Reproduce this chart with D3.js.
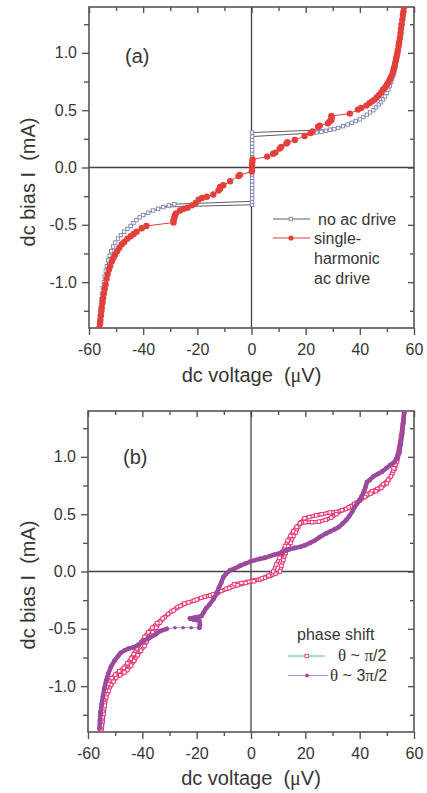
<!DOCTYPE html>
<html>
<head>
<meta charset="utf-8">
<title>dc I-V curves</title>
<script src="https://d3js.org/d3.v7.min.js"></script>
<style>
body { margin: 0; background: #fff; }
text { font-family: "Liberation Sans", Arial, sans-serif; fill: #363636; }
</style>
</head>
<body>
<script>

// ---- axis ticks ----
var xMajor = [-60, -40, -20, 0, 20, 40, 60];
var xMinor = [-50, -30, -10, 10, 30, 50];
var yMajor = [-1.0, -0.5, 0.0, 0.5, 1.0];
var yMinor = [-1.25, -0.75, -0.25, 0.25, 0.75, 1.25];

// ---- panel (a): no ac drive (V in uV, I in mA) ----
var noAcPos = [[22.0,0.300],[24.0,0.305],[25.8,0.31],[27.5,0.32],[29.0,0.33],[30.5,0.335],[32.0,0.345],[33.8,0.36],
  [35.5,0.375],[37.0,0.39],[38.5,0.405],[40.0,0.42],[41.3,0.44],[42.6,0.46],[43.8,0.48],[45.0,0.50],[46.0,0.525],
  [47.0,0.55],[47.8,0.57],[48.6,0.595],[49.3,0.62],[49.9,0.65],[50.5,0.68],[51.0,0.71],[51.5,0.745],[51.9,0.775],
  [52.3,0.80],[52.7,0.83],[53.0,0.86],[53.3,0.89],[53.6,0.93],[53.9,0.97],[54.2,1.01],[54.5,1.05],[54.8,1.09],
  [55.1,1.13],[55.3,1.17],[55.5,1.21],[55.7,1.25],[55.9,1.29],[56.0,1.32],[56.2,1.36],[56.4,1.40]];
var noAcNeg = [[-28.5,-0.32],[-30.5,-0.33],[-32.6,-0.345],[-34.5,-0.36],[-36.3,-0.375],[-38.2,-0.395],[-40.0,-0.415],
  [-41.3,-0.435],[-42.5,-0.46],[-43.6,-0.485],[-44.6,-0.51],[-45.8,-0.535],[-47.0,-0.56],[-48.2,-0.59],[-49.3,-0.62],
  [-50.3,-0.655],[-51.1,-0.69],[-51.8,-0.73],[-52.4,-0.77],[-52.9,-0.81],[-53.4,-0.86],[-53.8,-0.90],[-54.2,-0.95],
  [-54.5,-1.00],[-54.9,-1.05],[-55.2,-1.10],[-55.4,-1.15],[-55.6,-1.20],[-55.8,-1.25],[-56.0,-1.30],[-56.2,-1.35],[-56.4,-1.40]];
var noAcZero = [[0.2,-0.325],[0.2,-0.30],[0.2,-0.27],[0.2,-0.24],[0.2,-0.21],[0.2,-0.18],[0.2,-0.15],[0.2,-0.12],
  [0.2,-0.09],[0.2,-0.06],[0.2,-0.03],[0.2,0.0],[0.2,0.03],[0.2,0.06],[0.2,0.09],[0.2,0.12],[0.2,0.15],[0.2,0.18],
  [0.2,0.21],[0.2,0.24],[0.2,0.27],[0.2,0.305]];
var noAcJumps = [[[0.2,0.305],[29.0,0.33]], [[0.2,0.27],[22.0,0.30]],
  [[0.2,-0.295],[-28.5,-0.32]], [[0.2,-0.325],[-32.6,-0.345]]];

// ---- panel (a): single-harmonic ac drive ----
var acDrive = [[-56.1,-1.40],[-55.9,-1.36],[-55.8,-1.33],[-55.6,-1.29],[-55.4,-1.25],[-55.3,-1.22],[-55.0,-1.18],
  [-54.8,-1.14],[-54.5,-1.10],[-54.2,-1.06],[-53.9,-1.02],[-53.5,-0.97],[-53.1,-0.93],[-52.6,-0.89],[-52.2,-0.86],
  [-51.6,-0.82],[-51.0,-0.79],[-50.4,-0.76],[-49.6,-0.73],[-48.8,-0.70],[-47.9,-0.67],[-47.0,-0.65],[-45.8,-0.62],
  [-44.6,-0.60],[-43.5,-0.58],[-42.4,-0.56],[-40.5,-0.53],[-38.8,-0.51],
  [-28.8,-0.48],[-28.8,-0.46],[-28.5,-0.44],[-28.3,-0.42],[-27.9,-0.40],[-26.4,-0.375],[-25.0,-0.36],[-23.6,-0.35],
  [-22.0,-0.33],[-20.6,-0.31],[-19.5,-0.28],[-18.3,-0.265],[-16.5,-0.255],[-14.1,-0.235],[-12.2,-0.20],[-11.6,-0.185],
  [-11.6,-0.17],[-10.4,-0.155],[-7.9,-0.12],[-4.8,-0.075],[-4.3,-0.065],[0.1,-0.035],[0.2,-0.01],[0.2,0.02],
  [0.3,0.05],[0.4,0.07],
  [5.8,0.095],[8.0,0.12],[8.8,0.13],[10.4,0.165],[11.0,0.18],[12.9,0.21],[13.3,0.22],[16.0,0.24],[19.6,0.275],
  [21.8,0.30],[22.5,0.315],[24.6,0.355],[25.2,0.365],[28.2,0.385],[28.8,0.40],[29.5,0.415],[29.6,0.435],[29.5,0.45],
  [36.3,0.47],[39.3,0.505],[40.5,0.52],[42.4,0.54],[43.5,0.56],[44.4,0.575],[45.3,0.59],[46.2,0.61],[47.0,0.63],
  [47.9,0.655],[48.6,0.68],[49.4,0.70],[50.0,0.725],[50.6,0.745],[51.1,0.77],[51.6,0.795],[52.1,0.82],[52.4,0.85],
  [52.7,0.875],[53.0,0.905],[53.3,0.935],[53.5,0.96],[53.8,0.99],[54.0,1.02],[54.3,1.06],[54.5,1.09],[54.8,1.13],
  [55.0,1.17],[55.2,1.21],[55.4,1.25],[55.7,1.29],[55.9,1.33],[56.1,1.36],[56.3,1.40]];

// ---- panel (b): theta ~ pi/2 (down sweep then up sweep) ----
var phaseHalf = [[56.4,1.39],[56.0,1.30],[55.6,1.20],[55.2,1.12],[54.6,1.04],[53.8,0.96],[53.0,0.90],[52.0,0.85],
  [50.5,0.80],[48.6,0.76],[46.5,0.72],[44.5,0.70],[42.5,0.67],[40.5,0.63],[38.8,0.60],[37.0,0.57],[35.0,0.545],
  [33.0,0.53],[31.4,0.52],[29.0,0.515],[26.0,0.50],[24.0,0.49],[21.5,0.475],[19.7,0.465],[18.5,0.43],[17.4,0.39],
  [16.5,0.34],[15.6,0.31],[14.6,0.25],[13.7,0.22],[12.8,0.16],[11.9,0.10],[11.2,0.05],[10.7,0.0],
  [9.0,-0.02],[7.0,-0.04],[5.0,-0.055],[3.3,-0.07],[1.3,-0.075],[-1.0,-0.09],[-3.5,-0.10],[-6.1,-0.11],[-9.0,-0.15],
  [-12.2,-0.185],[-15.0,-0.21],[-18.3,-0.23],[-21.0,-0.255],[-24.5,-0.28],[-27.0,-0.31],[-29.4,-0.35],[-31.8,-0.40],
  [-33.5,-0.445],[-34.9,-0.49],[-36.2,-0.53],[-37.4,-0.57],[-38.4,-0.61],[-39.2,-0.65],[-40.5,-0.69],[-41.7,-0.73],
  [-43.0,-0.78],[-44.1,-0.82],[-45.5,-0.86],[-46.6,-0.88],[-48.2,-0.905],[-49.6,-0.925],[-50.6,-0.96],[-51.5,-0.99],
  [-52.4,-1.04],[-53.3,-1.10],[-53.8,-1.17],[-54.2,-1.24],[-54.6,-1.31],[-54.9,-1.38],
  [-55.4,-1.38],[-55.1,-1.30],[-54.7,-1.22],[-54.1,-1.12],[-53.4,-1.04],[-52.5,-0.98],[-51.3,-0.93],[-50.0,-0.90],
  [-48.5,-0.87],[-46.8,-0.84],[-45.5,-0.80],[-44.2,-0.76],[-43.2,-0.72],[-42.0,-0.67],[-40.5,-0.62],[-39.2,-0.57],
  [-37.8,-0.53],[-36.3,-0.49],[-34.5,-0.45],[-32.5,-0.41],[-30.5,-0.37],[-28.5,-0.34],[-26.0,-0.30],[-23.0,-0.27],
  [-20.0,-0.245],[-17.0,-0.22],[-14.0,-0.20],[-11.0,-0.17],[-8.0,-0.145],[-5.0,-0.12],[-2.0,-0.10],[1.0,-0.085],
  [4.0,-0.06],[6.5,-0.035],[8.2,0.0],[9.3,0.06],[10.5,0.12],[11.5,0.17],[12.5,0.22],[13.5,0.27],[14.5,0.31],
  [15.5,0.35],[16.8,0.39],[18.0,0.42],[20.0,0.43],[22.5,0.43],[25.0,0.435],[27.5,0.45],[29.5,0.47],[31.4,0.50],
  [33.5,0.535],[36.0,0.56],[38.0,0.59],[40.0,0.62],[42.0,0.65],[44.0,0.68],[46.0,0.70],[48.0,0.73],[50.0,0.77],
  [51.5,0.83],[52.5,0.90],[53.5,0.98],[54.5,1.08],[55.2,1.18],[55.8,1.28],[56.3,1.38]];

// ---- panel (b): theta ~ 3pi/2 ----
var phaseThreeUpper = [[56.4,1.39],[56.1,1.30],[55.6,1.20],[55.1,1.12],[54.5,1.04],[53.7,0.99],[52.6,0.95],
  [51.3,0.93],[49.8,0.90],[48.2,0.87],[46.6,0.85],[45.1,0.83],[43.8,0.80],[42.7,0.78],[42.2,0.74],[41.6,0.70],
  [40.8,0.66],[39.9,0.62],[39.0,0.59],[38.1,0.56],[37.2,0.52],[36.1,0.48],[35.1,0.45],[33.8,0.42],[32.4,0.39],
  [31.0,0.37],[29.2,0.35],[27.5,0.33],[25.3,0.30],[23.5,0.27],[21.8,0.25],[20.0,0.23],[18.1,0.215],[16.0,0.205],
  [14.3,0.195],[12.5,0.18],[10.7,0.16],[9.0,0.15],[7.1,0.135],[5.2,0.12],[3.3,0.11],[1.5,0.10],[-0.3,0.085],
  [-2.0,0.07],[-4.0,0.05],[-6.1,0.025],[-7.7,0.01],[-9.2,-0.02],[-10.2,-0.05],[-11.0,-0.10],[-11.8,-0.14],
  [-12.8,-0.20],[-13.8,-0.24],[-15.3,-0.29],[-16.5,-0.32],[-17.5,-0.36],[-18.3,-0.39],[-20.5,-0.40],[-22.5,-0.41],
  [-21.0,-0.42],[-19.0,-0.43],[-18.8,-0.46],[-19.0,-0.49]];
var phaseThreeJump = [[-19.0,-0.49],[-22.0,-0.49],[-25.0,-0.49],[-28.0,-0.49],[-31.0,-0.50]];
var phaseThreeLower = [[-31.0,-0.50],[-33.5,-0.52],[-35.2,-0.55],[-37.5,-0.58],[-39.8,-0.61],[-41.5,-0.64],
  [-43.0,-0.66],[-44.8,-0.67],[-46.6,-0.69],[-48.0,-0.71],[-49.0,-0.74],[-50.3,-0.78],[-51.5,-0.83],[-52.5,-0.89],
  [-53.3,-0.95],[-54.0,-1.02],[-54.5,-1.09],[-55.0,-1.16],[-55.4,-1.23],[-55.6,-1.30],[-55.8,-1.37]];

var red = "#e2403b", blueSq = "#7c82b8", pink = "#e8336e", purple = "#9b4a9d";

var svg = d3.select("body").append("svg").attr("width", 427).attr("height", 793);
var uid = 0;

function panel(p) {
  var x = d3.scaleLinear().domain([-60, 60]).range([p.left, p.right]);
  var y = d3.scaleLinear().domain([-1.4, 1.4]).range([p.bottom, p.top]);
  var g = svg.append("g");
  var axisCol = "#555";

  function styleAxis(sel, labels) {
    sel.select(".domain").remove();
    sel.selectAll(".tick line").attr("stroke", axisCol).attr("stroke-width", 1.4);
    sel.selectAll(".tick text").attr("font-size", 16).attr("fill", "#363636")
      .attr("font-family", "Liberation Sans, Arial, sans-serif");
    if (!labels) sel.selectAll(".tick text").remove();
  }

  var fmtY = function(d) { return d3.format(".1f")(d).replace("\u2212", "-"); };
  var fmtX = function(d) { return String(d); };

  g.append("g").attr("transform", "translate(0," + p.bottom + ")")
    .call(d3.axisBottom(x).tickValues(xMajor).tickSize(7).tickPadding(8.5).tickFormat(fmtX))
    .call(styleAxis, true);
  g.append("g").attr("transform", "translate(0," + p.bottom + ")")
    .call(d3.axisBottom(x).tickValues(xMinor).tickSize(4)).call(styleAxis, false);
  g.append("g").attr("transform", "translate(0," + p.top + ")")
    .call(d3.axisTop(x).tickValues(xMajor).tickSize(-6)).call(styleAxis, false);
  g.append("g").attr("transform", "translate(0," + p.top + ")")
    .call(d3.axisTop(x).tickValues(xMinor).tickSize(-4)).call(styleAxis, false);
  g.append("g").attr("transform", "translate(" + p.left + ",0)")
    .call(d3.axisLeft(y).tickValues(yMajor).tickSize(7).tickPadding(5).tickFormat(fmtY))
    .call(styleAxis, true);
  g.append("g").attr("transform", "translate(" + p.left + ",0)")
    .call(d3.axisLeft(y).tickValues(yMinor).tickSize(5)).call(styleAxis, false);
  g.append("g").attr("transform", "translate(" + p.right + ",0)")
    .call(d3.axisRight(y).tickValues(yMajor).tickSize(-6)).call(styleAxis, false);
  g.append("g").attr("transform", "translate(" + p.right + ",0)")
    .call(d3.axisRight(y).tickValues(yMinor).tickSize(-4)).call(styleAxis, false);

  // zero lines
  g.append("line").attr("x1", x(0)).attr("x2", x(0)).attr("y1", y(-1.4)).attr("y2", y(1.4))
    .attr("stroke", "#444").attr("stroke-width", 1.3);
  g.append("line").attr("x1", x(-60)).attr("x2", x(60)).attr("y1", y(0)).attr("y2", y(0))
    .attr("stroke", "#444").attr("stroke-width", 1.3);

  // frame
  g.append("rect").attr("x", p.left).attr("y", p.top)
    .attr("width", p.right - p.left).attr("height", p.bottom - p.top)
    .attr("fill", "none").attr("stroke", axisCol).attr("stroke-width", 1.6);

  var clipId = "clip" + (uid++);
  svg.append("clipPath").attr("id", clipId).append("rect")
    .attr("x", p.left).attr("y", p.top).attr("width", p.right - p.left).attr("height", p.bottom - p.top);
  var data = g.append("g").attr("clip-path", "url(#" + clipId + ")");

  // titles
  g.append("text").attr("x", p.labelX).attr("y", p.labelY).attr("font-size", 20).text(p.label);
  var xt = g.append("text").attr("x", (p.left + p.right) / 2).attr("y", p.titleY)
    .attr("text-anchor", "middle").attr("font-size", 20);
  xt.append("tspan").text("dc voltage\u00a0\u00a0(");
  xt.append("tspan").attr("font-family", "Liberation Serif, serif").text("\u03bc");
  xt.append("tspan").text("V)");
  g.append("text").attr("transform", "translate(" + p.ytitleX + "," + p.ytitleY + ") rotate(-90)")
    .attr("text-anchor", "middle").attr("font-size", 20).text("dc bias I\u00a0\u00a0(mA)");

  var line = d3.line().x(function(d) { return x(d[0]); }).y(function(d) { return y(d[1]); });
  return { x: x, y: y, g: g, data: data, line: line };
}

function squares(layer, pts, P, size, stroke, sw) {
  layer.selectAll(null).data(pts).enter().append("rect")
    .attr("x", function(d) { return P.x(d[0]) - size / 2; })
    .attr("y", function(d) { return P.y(d[1]) - size / 2; })
    .attr("width", size).attr("height", size)
    .attr("fill", "#fff").attr("stroke", stroke).attr("stroke-width", sw);
}
function dots(layer, pts, P, r, col) {
  layer.selectAll(null).data(pts).enter().append("circle")
    .attr("cx", function(d) { return P.x(d[0]); })
    .attr("cy", function(d) { return P.y(d[1]); })
    .attr("r", r).attr("fill", col);
}

// ================= panel (a) =================
var A = panel({ left: 89, right: 414, top: 7, bottom: 328, label: "(a)", labelX: 125, labelY: 63,
  titleY: 382, ytitleX: 35, ytitleY: 182 });

[noAcPos, noAcNeg, noAcZero].concat(noAcJumps).forEach(function(s) {
  A.data.append("path").attr("d", A.line(s)).attr("fill", "none").attr("stroke", "#333").attr("stroke-width", 0.8);
});
A.data.append("path").attr("d", A.line(acDrive)).attr("fill", "none").attr("stroke", red).attr("stroke-width", 1);
squares(A.data, noAcPos.concat(noAcNeg, noAcZero), A, 3.4, blueSq, 0.9);
dots(A.data, acDrive, A, 3.2, red);

// legend (a)
var la = A.g.append("g");
la.append("line").attr("x1", 273).attr("x2", 310).attr("y1", 219).attr("y2", 219).attr("stroke", "#333").attr("stroke-width", 0.8);
la.append("rect").attr("x", 289.2).attr("y", 217.3).attr("width", 3.4).attr("height", 3.4)
  .attr("fill", "#fff").attr("stroke", blueSq).attr("stroke-width", 0.9);
la.append("text").attr("x", 318).attr("y", 224.5).attr("font-size", 16).text("no ac drive");
la.append("line").attr("x1", 273).attr("x2", 310).attr("y1", 238).attr("y2", 238).attr("stroke", red).attr("stroke-width", 1);
la.append("circle").attr("cx", 291).attr("cy", 238).attr("r", 2.6).attr("fill", red);
["single-", "harmonic", "ac drive"].forEach(function(t, i) {
  la.append("text").attr("x", 314).attr("y", 243.5 + i * 20).attr("font-size", 16).text(t);
});

// ================= panel (b) =================
var B = panel({ left: 88, right: 414, top: 411, bottom: 732, label: "(b)", labelX: 123, labelY: 464,
  titleY: 785, ytitleX: 35, ytitleY: 585 });

// theta ~ pi/2 : chain of open squares
B.data.append("path").attr("d", B.line(phaseHalf)).attr("fill", "none").attr("stroke", pink)
  .attr("stroke-width", 4).attr("stroke-linejoin", "round").attr("stroke-linecap", "round");
B.data.append("path").attr("d", B.line(phaseHalf)).attr("fill", "none").attr("stroke", "#fad7e2")
  .attr("stroke-width", 1.6).attr("stroke-linejoin", "round");
squares(B.data, phaseHalf, B, 3.4, pink, 0.9);

// theta ~ 3pi/2 : dense filled dots
B.data.append("path").attr("d", B.line(phaseThreeJump)).attr("fill", "none").attr("stroke", "#9a9ad0").attr("stroke-width", 1);
[phaseThreeUpper, phaseThreeLower].forEach(function(s) {
  B.data.append("path").attr("d", B.line(s)).attr("fill", "none").attr("stroke", purple)
    .attr("stroke-width", 4.4).attr("stroke-linejoin", "round").attr("stroke-linecap", "round");
});
dots(B.data, phaseThreeUpper.concat(phaseThreeLower), B, 2.4, purple);
dots(B.data, phaseThreeJump, B, 1.8, purple);

// legend (b)
var lb = B.g.append("g");
lb.append("text").attr("x", 297).attr("y", 640).attr("font-size", 16).text("phase shift");
lb.append("line").attr("x1", 288).attr("x2", 325).attr("y1", 656).attr("y2", 656).attr("stroke", "#4cc08f").attr("stroke-width", 1);
lb.append("rect").attr("x", 305).attr("y", 654.3).attr("width", 3.4).attr("height", 3.4)
  .attr("fill", "#fff").attr("stroke", pink).attr("stroke-width", 0.9);
var t1 = lb.append("text").attr("x", 338).attr("y", 661).attr("font-size", 16);
t1.append("tspan").attr("font-family", "Liberation Serif, serif").attr("font-size", 17).text("\u03b8");
t1.append("tspan").text("\u00a0~\u00a0");
t1.append("tspan").attr("font-family", "Liberation Serif, serif").attr("font-size", 17).text("\u03c0");
t1.append("tspan").text("/2");
lb.append("line").attr("x1", 288).attr("x2", 328).attr("y1", 675.5).attr("y2", 675.5).attr("stroke", "#9a9ad0").attr("stroke-width", 1);
lb.append("circle").attr("cx", 307).attr("cy", 675.5).attr("r", 1.9).attr("fill", purple);
var t2 = lb.append("text").attr("x", 330).attr("y", 681).attr("font-size", 16);
t2.append("tspan").attr("font-family", "Liberation Serif, serif").attr("font-size", 17).text("\u03b8");
t2.append("tspan").text("\u00a0~\u00a03");
t2.append("tspan").attr("font-family", "Liberation Serif, serif").attr("font-size", 17).text("\u03c0");
t2.append("tspan").text("/2");

</script>
</body>
</html>
